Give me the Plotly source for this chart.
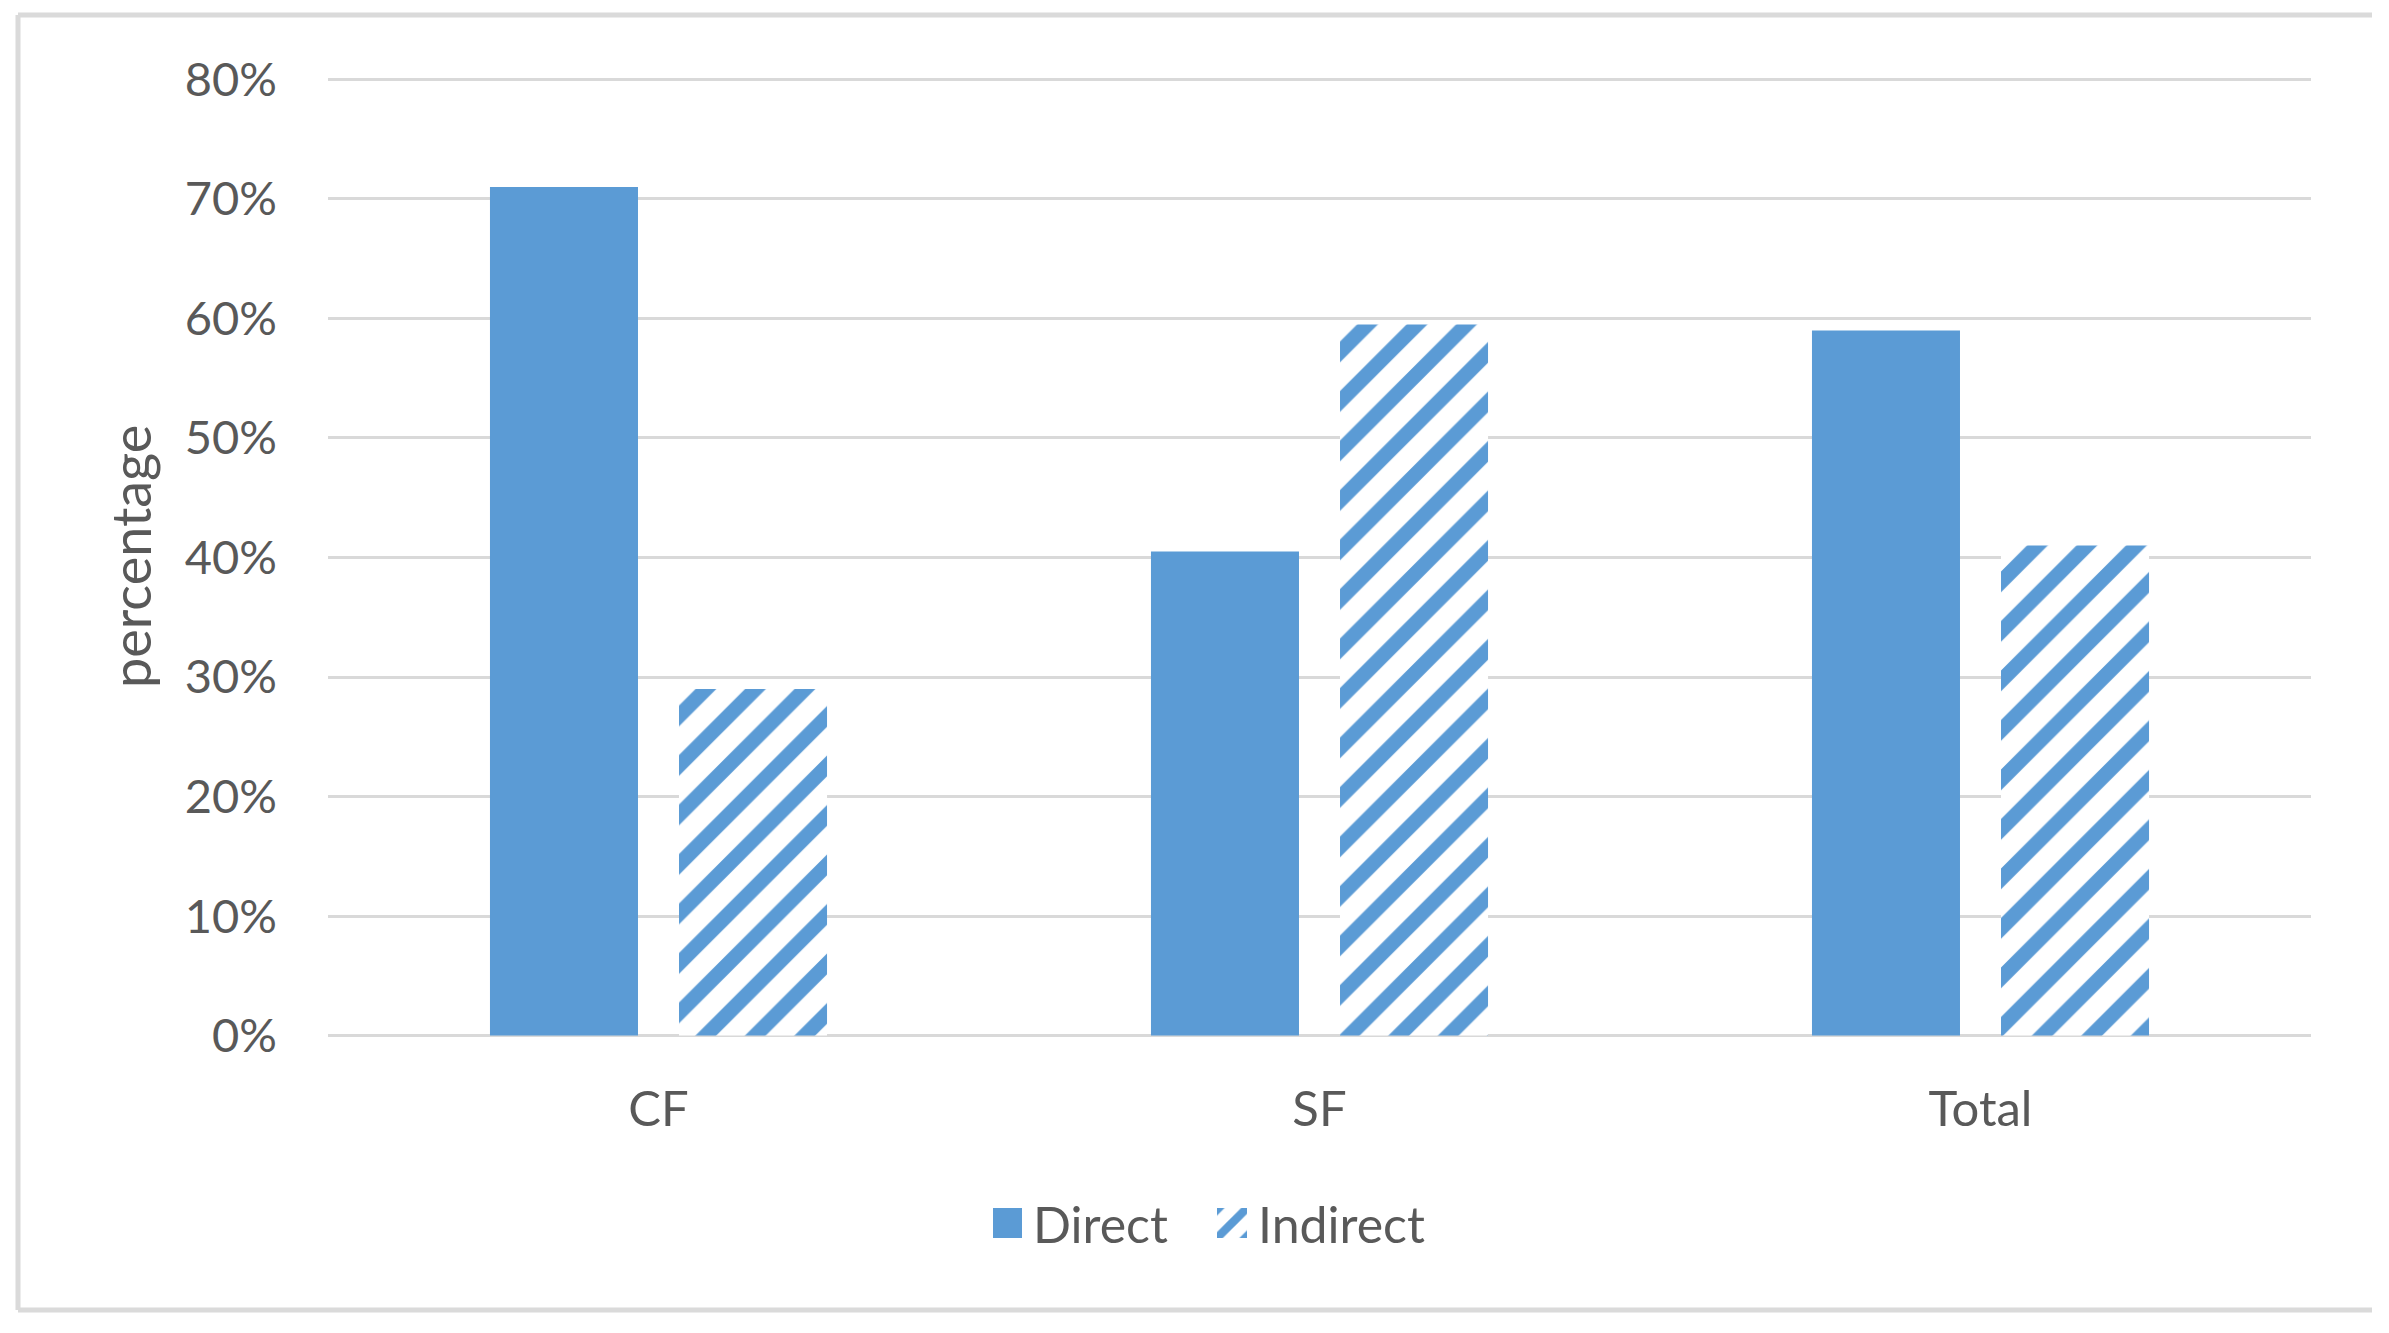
import plotly.graph_objects as go

# ---- data ----
categories = ["CF", "SF", "Total"]
direct = [0.71, 0.405, 0.59]
indirect = [0.29, 0.595, 0.41]
series_names = ["Direct", "Indirect"]
y_ticks = [0, 0.1, 0.2, 0.3, 0.4, 0.5, 0.6, 0.7, 0.8]

# ---- styling ----
W, H = 2389, 1333
EPS = 0.002
L, R, T, B = 328, 78, 77, 295
BLUE = "#5B9BD5"
TEXT = "#595959"
GRID = "#D9D9D9"
FONT = "Lato, Carlito, 'Open Sans', sans-serif"
FS = 47

pw = W - L - R
ph = H - T - B

def px_to_paper_x(px):
    return (px - L) / pw

def px_to_paper_y(py):
    return (H - B - py) / ph

fig = go.Figure()
fig.add_trace(go.Bar(
    name=series_names[0], x=categories, y=direct,
    marker=dict(color=BLUE, line=dict(width=0)),
))
fig.add_trace(go.Bar(
    name=series_names[1], x=categories, y=indirect,
    marker=dict(color="white", line=dict(width=0),
                pattern=dict(shape="/", fgcolor=BLUE, bgcolor="white",
                             size=35, solidity=0.42, fillmode="replace")),
))

border_x0, border_x1 = px_to_paper_x(18), px_to_paper_x(2372)
border_y0, border_y1 = px_to_paper_y(1310), px_to_paper_y(15)
border_line = dict(color="#DADADA", width=5)

fig.update_layout(
    width=W, height=H,
    margin=dict(l=L, r=R, t=T, b=B, pad=0),
    paper_bgcolor="white", plot_bgcolor="white",
    barmode="group", bargap=0.428, bargroupgap=0.217,
    font=dict(family=FONT, size=FS, color=TEXT),
    showlegend=True,
    legend=dict(orientation="h", x=px_to_paper_x(1218), y=px_to_paper_y(1223),
                xanchor="center", yanchor="middle",
                font=dict(family=FONT, size=50, color=TEXT),
                itemwidth=30, tracegroupgap=0, bgcolor="rgba(0,0,0,0)",
                entrywidth=180, entrywidthmode="pixels"),
    xaxis=dict(showgrid=False, zeroline=False, showline=False, ticks="",
               ticklabelstandoff=38,
               tickfont=dict(family=FONT, size=49, color=TEXT)),
    yaxis=dict(range=[-EPS, 0.8 + EPS], tickvals=y_ticks, tickformat=".0%",
               showgrid=True, gridcolor=GRID, gridwidth=3,
               zeroline=False, showline=False, ticks="",
               ticklabelstandoff=50,
               tickfont=dict(family=FONT, size=FS, color=TEXT)),
    annotations=[dict(text="percentage", textangle=-90, showarrow=False,
                      xref="paper", yref="paper",
                      x=px_to_paper_x(130), y=px_to_paper_y(557),
                      xanchor="center", yanchor="middle",
                      font=dict(family=FONT, size=54, color=TEXT))],
    shapes=[
        dict(type="line", xref="paper", yref="paper",
             x0=border_x0, x1=border_x1, y0=border_y1, y1=border_y1, line=border_line),
        dict(type="line", xref="paper", yref="paper",
             x0=border_x0, x1=border_x1, y0=border_y0, y1=border_y0, line=border_line),
        dict(type="line", xref="paper", yref="paper",
             x0=border_x0, x1=border_x0, y0=border_y0, y1=border_y1, line=border_line),
    ],
)

post = """
document.body.style.margin='0';
document.body.style.overflow='hidden';
var gd = document.getElementById('{plot_id}');
function bigSwatch(){
  gd.querySelectorAll('.legendpoints path').forEach(function(p){
    p.setAttribute('transform','translate(14,0) scale(2.5)');
  });
}
bigSwatch();
if (gd.on) { gd.on('plotly_afterplot', bigSwatch); }
"""

fig.write_html("out.html", post_script=post,
               config={"displayModeBar": False})
